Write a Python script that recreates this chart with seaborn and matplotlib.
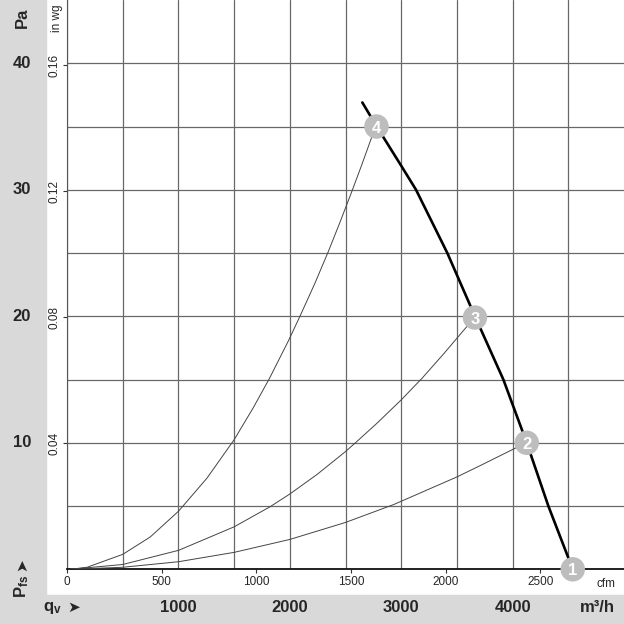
import numpy as np
import pandas as pd
import matplotlib
matplotlib.use('Agg')
import matplotlib.pyplot as plt
import matplotlib.transforms as mtrans
from matplotlib.patches import Rectangle
import seaborn as sns

# ── DATA (air flow in m3/h, static pressure in Pa) ────────────────────────────
fan_q = [2651, 2780, 3000, 3133, 3414, 3662, 3917, 4127, 4321, 4540]
fan_p = [36.9, 35.0, 31.9, 30.0, 25.0, 20.0, 15.0, 10.0, 5.0, 0.0]

sys4_q = [30, 180, 500, 748, 1002, 1256, 1501, 1674, 1818, 1987, 2091, 2225,
          2345, 2449, 2554, 2643, 2733, 2775]
sys4_p = [0.0, 0.16, 1.18, 2.56, 4.6, 7.2, 10.25, 12.8, 15.1, 18.05, 20.0, 22.6,
          25.1, 27.4, 29.8, 31.9, 34.1, 35.0]

sys3_q = [30, 500, 1002, 1501, 1824, 2000, 2245, 2499, 2589, 2783, 3001, 3187,
          3381, 3575, 3650]
sys3_p = [0.0, 0.38, 1.5, 3.36, 4.95, 5.95, 7.5, 9.3, 10.0, 11.55, 13.4, 15.1,
          17.03, 19.04, 19.8]

sys2_q = [30, 500, 1002, 1501, 2000, 2499, 2933, 3500, 3710, 4110]
sys2_p = [0.0, 0.16, 0.6, 1.34, 2.36, 3.7, 5.12, 7.3, 8.2, 9.95]

op_label = ['1', '2', '3', '4']
op_q = [4540, 4127, 3662, 2778]
op_p = [0.0, 10.0, 19.9, 35.0]

pa_labels = [10, 20, 30, 40]
m3h_labels = [1000, 2000, 3000, 4000]
inwg_ticks = [0.04, 0.08, 0.12, 0.16]
cfm_ticks = [0, 500, 1000, 1500, 2000, 2500]

M3H_PER_CFM = 1.699
PA_PER_INWG = 249.089

sys_df = pd.concat([
    pd.DataFrame({'q': sys4_q, 'p': sys4_p, 'curve': '4'}),
    pd.DataFrame({'q': sys3_q, 'p': sys3_p, 'curve': '3'}),
    pd.DataFrame({'q': sys2_q, 'p': sys2_p, 'curve': '2'}),
])
fan_df = pd.DataFrame({'q': fan_q, 'p': fan_p})
op_df = pd.DataFrame({'q': op_q, 'p': op_p, 'label': op_label})

# ── FIGURE ────────────────────────────────────────────────────────────────────
sns.set_style('white')
plt.rcParams['font.family'] = ['Liberation Sans', 'DejaVu Sans']
plt.rcParams['mathtext.fontset'] = 'custom'
plt.rcParams['mathtext.rm'] = 'Liberation Sans:bold'
plt.rcParams['mathtext.it'] = 'Liberation Sans:bold'

W = H = 624
fig = plt.figure(figsize=(6.24, 6.24), dpi=100)
band = '#d9d9d9'
fig.patches.append(Rectangle((0, 0), 1, 29 / H, transform=fig.transFigure,
                             color=band, zorder=-1))
fig.patches.append(Rectangle((0, 29 / H), 46 / W, 1, transform=fig.transFigure,
                             color=band, zorder=-1))

ax = fig.add_axes([67 / W, (H - 569.3) / H, 557 / W, 569.3 / H])
ax.set_facecolor('white')
ax.set_xlim(0, 5000)
ax.set_ylim(0, 45)

ax.set_xticks(np.arange(0, 5000, 500))
ax.set_yticks(np.arange(0, 45, 5))
ax.tick_params(length=0, labelbottom=False, labelleft=False)
ax.grid(True, color='#686868', lw=0.9)
ax.set_axisbelow(True)
for s in ['top', 'right']:
    ax.spines[s].set_visible(False)
ax.spines['left'].set_color('#555555')
ax.spines['left'].set_linewidth(0.8)
ax.spines['bottom'].set_color('#111111')
ax.spines['bottom'].set_linewidth(1.3)

# curves
sns.lineplot(data=sys_df, x='q', y='p', units='curve', estimator=None,
             sort=False, color='#444444', lw=0.7, ax=ax, zorder=3)
sns.lineplot(data=fan_df, x='q', y='p', estimator=None, sort=False,
             color='black', lw=1.9, ax=ax, zorder=4)
sns.scatterplot(data=op_df, x='q', y='p', s=310, color='#bdbdbd',
                edgecolor='none', ax=ax, zorder=6, clip_on=False)
for q, p, lab in zip(op_q, op_p, op_label):
    ax.text(q, p, lab, color='white', fontsize=12, fontweight='bold',
            ha='center', va='center_baseline', zorder=7, clip_on=False)
ax.set_xlabel('')
ax.set_ylabel('')

# secondary scales inside the white area
secx = ax.secondary_xaxis('bottom', functions=(lambda x: x / M3H_PER_CFM,
                                               lambda x: x * M3H_PER_CFM))
secx.set_xticks(cfm_ticks)
secx.tick_params(length=3, width=0.8, pad=2, labelsize=8.5, color='#333333')
secx.spines['bottom'].set_visible(False)

secy = ax.secondary_yaxis('left', functions=(lambda y: y / PA_PER_INWG,
                                             lambda y: y * PA_PER_INWG))
secy.set_yticks(inwg_ticks)
secy.set_yticklabels([f'{t:.2f}' for t in inwg_ticks], rotation=90, va='center')
secy.tick_params(length=3, width=0.8, pad=2, labelsize=8.5, color='#333333')
secy.spines['left'].set_visible(False)

ax.text(0.985, -0.016, 'cfm', transform=ax.transAxes, fontsize=8.5,
        ha='right', va='top')
ax.text(-10 / 557, 1 - 18 / 569.3, 'in wg', transform=ax.transAxes,
        fontsize=8.5, rotation=90, ha='center', va='center')

# labels in the grey bands
ty = mtrans.blended_transform_factory(fig.transFigure, ax.transData)
for v in pa_labels:
    ax.text(22 / W, v, str(v), transform=ty, fontsize=12, fontweight='bold',
            ha='center', va='center', clip_on=False)
tx = mtrans.blended_transform_factory(ax.transData, fig.transFigure)
for v in m3h_labels:
    ax.text(v, (H - 608) / H, str(v), transform=tx, fontsize=12,
            fontweight='bold', ha='center', va='center', clip_on=False)

fig.text(22 / W, 1 - 18 / H, 'Pa', fontsize=12, fontweight='bold',
         rotation=90, ha='center', va='center')
fig.text(22 / W, (H - 598) / H, r'P$_{\mathrm{fs}}$', fontsize=12,
         fontweight='bold', rotation=90, ha='center', va='bottom')
fig.text(22 / W, (H - 565) / H, '➤', fontsize=11, family='DejaVu Sans',
         rotation=90, ha='center', va='center')
fig.text(43 / W, (H - 608) / H, r'q$_{\mathrm{v}}$', fontsize=12,
         fontweight='bold', ha='left', va='center')
fig.text(74 / W, (H - 607) / H, '➤', fontsize=11, family='DejaVu Sans',
         ha='center', va='center')
fig.text(615 / W, (H - 608) / H, 'm³/h', fontsize=12, fontweight='bold',
         ha='right', va='center')

plt.savefig('out.png', dpi=100)
plt.close()
